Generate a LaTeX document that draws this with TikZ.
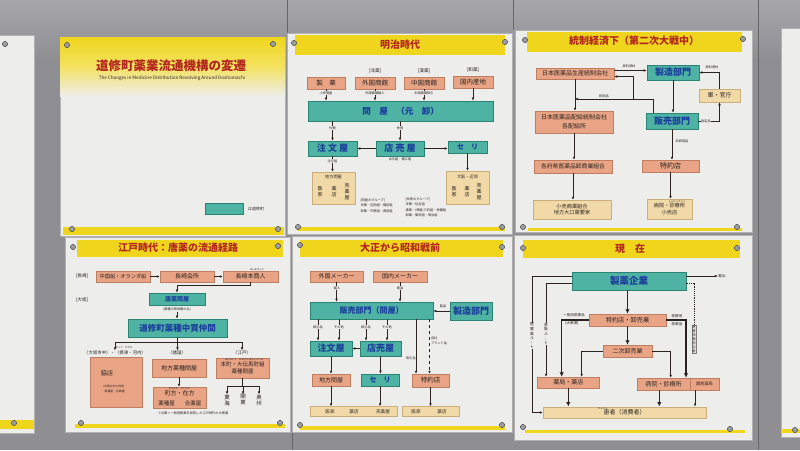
\documentclass[tikz,border=0pt]{standalone}
\usepackage{fontspec}
\setmainfont{Noto Sans CJK JP}
\usetikzlibrary{arrows.meta,positioning,calc,shadows}
\definecolor{wallGray}{HTML}{8E8E93}
\definecolor{wallTop}{HTML}{A7A6AB}
\definecolor{panelWhite}{HTML}{EDEDEB}
\definecolor{barYellow}{HTML}{EFD61C}
\definecolor{titleRed}{HTML}{B3261E}
\definecolor{pinkFill}{HTML}{E9A485}
\definecolor{pinkEdge}{HTML}{BF7D62}
\definecolor{tealFill}{HTML}{4FB3A3}
\definecolor{tealEdge}{HTML}{2A8474}
\definecolor{inkBlue}{HTML}{1B3E9C}
\definecolor{creamFill}{HTML}{F2DAA8}
\definecolor{creamEdge}{HTML}{CBAE7A}
\definecolor{inkDark}{HTML}{2A2320}
\definecolor{screwGray}{HTML}{9A9DA2}
\newcommand{\fsz}[2]{\fontsize{#1}{#2}\selectfont}

\begin{document}
\begin{tikzpicture}[x=1pt,y=-1pt,
    sz/.style 2 args={minimum width=#1pt,minimum height=#2pt},
    pinkbox/.style={rectangle,draw=pinkEdge,fill=pinkFill,line width=0.5pt,
                    inner sep=0pt,font=\fsz{6}{7},text=inkDark,
                    drop shadow={shadow xshift=0.7pt,shadow yshift=-0.7pt,opacity=0.45}},
    tealbox/.style={rectangle,draw=tealEdge,fill=tealFill,line width=0.7pt,
                    inner sep=0pt,font=\bfseries\fsz{9}{10},text=inkBlue,
                    drop shadow={shadow xshift=0.8pt,shadow yshift=-0.8pt,opacity=0.45}},
    creambox/.style={rectangle,draw=creamEdge,fill=creamFill,line width=0.5pt,
                     inner sep=0pt,font=\fsz{5.2}{6.5},text=inkDark,
                     drop shadow={shadow xshift=0.7pt,shadow yshift=-0.7pt,opacity=0.4}},
    paneltitle/.style={font=\bfseries\fsz{10}{11},text=titleRed},
    tinylbl/.style={font=\fsz{3.2}{5.5},text=inkDark,inner sep=0.4pt},
    sidelbl/.style={font=\fsz{4.6}{5.5},text=inkDark,inner sep=0.4pt},
    tate/.style={align=center,font=\fsz{5}{6},text=inkDark,inner sep=0pt},
    flow/.style={draw=inkDark,line width=0.5pt,-{Latex[length=3pt,width=2.6pt]}},
    bigflow/.style={draw=inkDark,line width=1.3pt,-{Latex[length=4.5pt,width=4.5pt]}}
  ]
  \useasboundingbox (0,0) rectangle (800,450);
  % wall
  \fill[wallGray] (0,0) rectangle (800,450);
  \shade[top color=wallTop,bottom color=wallGray] (0,0) rectangle (800,60);
  \draw[black!60,line width=1pt] (287,0) -- (287,33) (513,0) -- (513,30)
    (292,432) -- (292,450) (758,0) -- (758,450);
  % panels
  \foreach \xa/\ya/\xb/\yb in {-5/35/34/433, 781/28/805/437,
      60/37/285/236, 287/33/512/234, 515/30/752/232,
      65/237/290/432, 292/236/512/432, 514/235/752/440}
    \fill[panelWhite,draw=black!30] (\xa,\ya) rectangle (\xb,\yb);
  % title bars
  \shade[top color=barYellow,bottom color=panelWhite,middle color=barYellow!70]
    (60,37) rectangle (285,96);
  \foreach \xa/\ya/\xb/\yb in {295/35/505/55, 527/32/742/52,
      77/240/283/257, 300/240/503/257, 523/240/740/258}
    \fill[barYellow] (\xa,\ya) rectangle (\xb,\yb);
  % bottom strips
  \foreach \xa/\ya/\xb/\yb in {-5/420/34/429, 781/429/805/433, 63/227/284/235,
      298/227/505/231, 528/228/742/231, 75/424/285/428,
      300/426/505/430, 525/430/745/433}
    \fill[barYellow] (\xa,\ya) rectangle (\xb,\yb);
  % screws
  \foreach \sx/\sy in {5/44, 14/423, 67/45, 273/44, 72/229, 278/229,
      294/43, 505/42, 298/227, 502/227, 525/40, 743/39, 523/227, 737/227,
      73/247, 278/246, 81/423, 280/423, 300/245, 502/247, 300/425, 502/425,
      523/248, 737/248, 523/427, 730/429, 795/430}
    \fill[screwGray,draw=black!70,line width=0.5pt] (\sx,\sy) circle (2.6);

  % Title panel
  \node[font=\bfseries\fsz{12.5}{13},text=titleRed] (mainTitle) at (171,66) {道修町薬業流通機構の変遷};
  \node[font=\fsz{4.6}{5},text=inkDark] (subTitle) at (172,78)
    {The Changes in Medicine Distribution Revolving Around Doshomachi};
  \node[tealbox,sz={38}{11}] (legendKey) at (224,208.5) {};
  \node[sidelbl,font=\fsz{4}{5}] (legendTxt) at (256,209) {は道修町};

  % Meiji
  \node[paneltitle] (meijiTitle) at (400,45) {明治時代};
  \node[sidelbl] (yoyakuLbl) at (375,71) {[洋薬]};
  \node[sidelbl] (kanyakuLbl) at (424,71) {[漢薬]};
  \node[sidelbl] (wayakuLbl) at (473,70) {[和薬]};
  \node[pinkbox,sz={38}{12},font=\fsz{6.5}{7}] (seiyaku) at (326,83) {製　薬};
  \node[pinkbox,sz={40}{12},font=\fsz{6.5}{7}] (gaikoku) at (375,83) {外国商館};
  \node[pinkbox,sz={40}{12},font=\fsz{6.5}{7}] (chugoku) at (424,83) {中国商館};
  \node[pinkbox,sz={40}{12},font=\fsz{6.5}{7}] (kokunai) at (473,82) {国内産地};
  \node[tealbox,sz={185}{20},font=\bfseries\fsz{8.5}{9}] (tonya) at (400.5,111) {問　屋　（元　卸）};
  \foreach \src in {seiyaku,gaikoku,chugoku,kokunai}
    \draw[flow] (\src.south) -- (\src.south |- tonya.north);
  \node[tinylbl,fill=panelWhite] (seiyakuVia) at (326,93) {小売問屋};
  \node[tinylbl,fill=panelWhite] (gaikokuVia) at (375,93) {外国商館輸入};
  \node[tinylbl,fill=panelWhite] (chugokuVia) at (424,93) {中国商館取引};
  \node[tealbox,sz={49}{15}] (chumon) at (332.5,148.5) {注 文 屋};
  \node[tealbox,sz={48}{15}] (tenuri) at (400,148.5) {店 売 屋};
  \node[tealbox,sz={39}{12},font=\bfseries\fsz{7}{8}] (seri) at (467.5,147) {セ　リ};
  \draw[flow] (chumon.north |- tonya.south) -- (chumon.north);
  \draw[flow] (tenuri.north |- tonya.south) -- (tenuri.north);
  \node[tinylbl,fill=panelWhite] (nakagaiA) at (332.5,128) {仲買};
  \node[tinylbl,fill=panelWhite] (nakagaiB) at (400,128) {仲買};
  \draw[flow] (tenuri.west) -- (chumon.east);
  \draw[flow] (tenuri.east) -- (tenuri.east -| seri.west);
  \node[tinylbl] (tenuriGrp) at (400,159) {永久組・備江組};
  \node[creambox,sz={43}{32}] (chihou) at (333.5,188) {};
  \node[creambox,sz={43}{33}] (osakaKinko) at (467.5,187.5) {};
  \draw[flow] (chumon.south) -- (chumon.south |- chihou.north);
  \draw[flow] (seri.south) -- (seri.south |- osakaKinko.north);
  \node[tinylbl,fill=panelWhite] (chumonGrp) at (332.5,161) {注文組};
  \node[sidelbl,font=\fsz{4.2}{5}] (chihouHd) at (333.5,177) {地方問屋};
  \node[tate] (chihouA) at (320,192) {医\\家};
  \node[tate] (chihouB) at (334,192) {薬\\店};
  \node[tate] (chihouC) at (347,192) {売\\薬\\屋};
  \node[sidelbl,font=\fsz{4.2}{5}] (osakaHd) at (467.5,177) {大阪・近郊};
  \node[tate] (osakaA) at (454,192) {医\\家};
  \node[tate] (osakaB) at (467,192) {薬\\店};
  \node[tate] (osakaC) at (479,192) {売\\薬\\屋};
  \node[tinylbl,anchor=north west,align=left] (tonyaGrp) at (360,198)
    {[問屋のグループ]\\洋薬―吉田組―備前組\\和薬―平野組―西宮組};
  \node[tinylbl,anchor=north west,align=left] (nakagaiGrp) at (405,197)
    {[仲買のグループ]\\洋薬―住吉組\\漢薬―(堺屋)三石組―神農組\\和薬―御安組―明治組};

  % Tosei keizai
  \node[paneltitle] (toseiTitle) at (634,41) {統制経済下（第二次大戦中）};
  \node[pinkbox,sz={78}{11}] (seisan) at (575,73.5) {日本医薬品生産統制会社};
  \node[tealbox,sz={52}{15}] (seizouA) at (673,72.5) {製造部門};
  \node[pinkbox,sz={78}{22},align=center] (haikyu) at (574,122) {日本医薬品配給統制会社\\[2pt]各配給所};
  \node[pinkbox,sz={78}{13},font=\fsz{5.8}{7}] (oroshiKumiai) at (573,166.5) {各府県医薬品卸商業組合};
  \node[creambox,sz={78}{19},align=center] (kouriKumiai) at (572,209.5) {小売商業組合\\地方大口需要家};
  \node[tealbox,sz={52}{16}] (hanbaiA) at (672,121) {販売部門};
  \node[creambox,sz={41}{13},font=\fsz{6}{7}] (gunKancho) at (719.5,95.5) {軍・官庁};
  \node[pinkbox,sz={57}{12},font=\fsz{7}{8}] (tokuyakuA) at (670.5,166) {特約店};
  \node[creambox,sz={45}{20},align=center] (byoinA) at (669.5,209) {病院・診療所\\小売店};
  \coordinate (seisanOut) at ([yshift=3pt]seisan.east);
  \draw[flow] (seisanOut) -- (seisanOut -| seizouA.west);
  \node[tinylbl] (genryoA) at (629,66) {原料資材};
  \draw[flow] (seisan.south) -- (seisan.south |- haikyu.north);
  \coordinate (toseiJct) at (633,99);
  \coordinate (hanbaiUp) at ([xshift=-19pt]hanbaiA.north);
  \draw[flow] (hanbaiUp) |- (seisan.south |- toseiJct);
  \draw[flow] (toseiJct) |- ([yshift=-3pt]seisan.east);
  \node[tinylbl] (toseihin) at (604,96) {統制品};
  \draw[flow] (hanbaiA.east) -| (gunKancho.south);
  \node[tinylbl,fill=panelWhite] (shiteihin) at (706,121) {指定品};
  \draw[flow] (gunKancho.north) |- (seizouA.east);
  \node[tinylbl] (genryoB) at (712,67) {原料資材};
  \draw[flow] (seizouA.south) -- (seizouA.south |- hanbaiA.north);
  \draw[flow] (hanbaiA.south) -- (hanbaiA.south |- tokuyakuA.north);
  \node[tinylbl] (hitoseihin) at (682,141) {非統制品};
  \draw[flow] (tokuyakuA.south) -- (tokuyakuA.south |- byoinA.north);
  \node[tinylbl,font=\fsz{2.4}{3}] (shinryoRuby) at (677,201.5) {しんりょうじょ};
  \draw[flow] (haikyu.south) -- (haikyu.south |- oroshiKumiai.north);
  \draw[flow] (oroshiKumiai.south) -- (oroshiKumiai.south |- kouriKumiai.north);

  % Edo
  \node[paneltitle] (edoTitle) at (178,248) {江戸時代：唐薬の流通経路};
  \node[sidelbl] (nagasakiLbl) at (82,276) {[長崎]};
  \node[pinkbox,sz={54}{11},font=\fsz{5.2}{6}] (karafune) at (123,276.5) {中国船・オランダ船};
  \node[pinkbox,sz={54}{11}] (kaisho) at (187,276.5) {長崎会所};
  \node[pinkbox,sz={55}{11}] (honshonin) at (250.5,276.5) {長崎本商人};
  \node[tinylbl,font=\fsz{2.4}{3}] (honshoRuby) at (257,269.5) {ほんあきんど};
  \draw[flow] (karafune) -- (kaisho);
  \draw[flow] (kaisho) -- (honshonin);
  \node[sidelbl] (osakaLbl) at (82,300) {[大坂]};
  \node[tealbox,sz={56}{12},font=\bfseries\fsz{6}{7}] (toyakuTonya) at (177,299) {唐薬問屋};
  \draw[flow] (honshonin.south) -- ++(0,3) -| (toyakuTonya.north);
  \node[tinylbl] (toyakuNote) at (177,309.5) {(薬種中買仲間の名)};
  \node[tealbox,sz={99}{18},font=\bfseries\fsz{8.5}{9}] (nakagaiNakama) at (177.5,328) {道修町薬種中買仲間};
  \draw[flow] (toyakuNote.south) -- (toyakuNote.south |- nakagaiNakama.north);
  \node[sidelbl,font=\fsz{4.4}{5}] (shichuLbl) at (115,353) {〈大坂市中〉・〈摂津・河内〉};
  \node[tinylbl,font=\fsz{2.4}{3}] (settsuRuby) at (124,347.5) {せっつ　かわち};
  \node[sidelbl,font=\fsz{4.4}{5}] (shokokuLbl) at (177,353) {〈諸国〉};
  \node[sidelbl,font=\fsz{4.4}{5}] (edoLbl) at (242,353) {〈江戸〉};
  \draw[flow] (nakagaiNakama.south) -- ++(0,5) -| (shichuLbl.north);
  \draw[flow] (nakagaiNakama.south) -- (nakagaiNakama.south |- shokokuLbl.north);
  \draw[flow] (nakagaiNakama.south) -- ++(0,5) -| (edoLbl.north);
  \node[pinkbox,sz={52}{50}] (wakimise) at (116,382) {};
  \node[sidelbl,font=\fsz{6}{7}] (wakiTxt) at (107,373) {脇店};
  \node[tinylbl,font=\fsz{2.8}{4.5},align=center] (wakiNote) at (115,389) {(中買以外の仲買・\\薬種屋・合薬屋)};
  \node[pinkbox,sz={54}{18}] (chihoYakushu) at (179,368) {地方薬種問屋};
  \node[pinkbox,sz={53}{21}] (machikata) at (179.5,397.5) {};
  \draw[flow] (chihoYakushu.south) -- (chihoYakushu.south |- machikata.north);
  \node[tinylbl,font=\fsz{2.4}{3}] (machiRuby) at (179.5,389) {まちかた　ざいかた};
  \node[sidelbl,font=\fsz{6}{7}] (machiTop) at (179.5,393.5) {町方・在方};
  \node[sidelbl,font=\fsz{5.5}{6}] (machiL) at (166.5,403.5) {薬種屋};
  \node[sidelbl,font=\fsz{5.5}{6}] (machiR) at (193,403.5) {合薬屋};
  \node[pinkbox,sz={53}{20},align=center,font=\fsz{5.5}{7}] (honcho) at (242.5,368) {本町・大伝馬町組\\薬種問屋};
  \node[tinylbl,font=\fsz{2.4}{3}] (honchoRuby) at (244,359.5) {ほんちょう　おおでんまちょうぐみ};
  \node[tate,font=\fsz{5.5}{6}] (tokai) at (227,400) {東\\海};
  \node[tate,font=\fsz{5.5}{6}] (kanto) at (243,400) {関\\東};
  \node[tate,font=\fsz{5.5}{6}] (oshu) at (259,400) {奥\\州};
  \coordinate (edoSplit) at ([yshift=-8pt]honcho.south);
  \draw[inkDark,line width=0.5pt] (honcho.south) -- (edoSplit);
  \foreach \dest in {tokai,kanto,oshu}
    \draw[flow] (edoSplit) -| (\dest.north);
  \node[tinylbl] (edoFoot) at (193,413) {※合薬＝一般用医薬を総称した江戸時代の大衆薬};

  % Taisho - Showa
  \node[paneltitle] (taishoTitle) at (400,248) {大正から昭和戦前};
  \node[pinkbox,sz={53}{11}] (gaiMaker) at (336.5,276.5) {外国メーカー};
  \node[pinkbox,sz={54}{11}] (naiMaker) at (400,276.5) {国内メーカー};
  \node[tealbox,sz={123}{17},font=\bfseries\fsz{8}{9}] (hanbaiB) at (371.5,310.5) {販売部門（問屋）};
  \node[tealbox,sz={42}{18}] (seizouB) at (471,311) {製造部門};
  \draw[flow] (gaiMaker.south) -- (gaiMaker.south |- hanbaiB.north);
  \node[tinylbl,fill=panelWhite] (yunyu) at (337,288) {輸入};
  \draw[flow] (naiMaker.south) -- (naiMaker.south |- hanbaiB.north);
  \node[tinylbl,fill=panelWhite] (shohinA) at (400,288) {商品};
  \draw[flow] (seizouB.west) -- (seizouB.west -| hanbaiB.east);
  \node[tinylbl] (seihinB) at (443,306) {製品};
  \node[tealbox,sz={42}{15}] (chumonB) at (331,348.5) {注文屋};
  \node[tealbox,sz={41}{15}] (tenuriB) at (380.5,348.5) {店売屋};
  \coordinate (tzRow) at (0,327);
  \foreach \dest/\dx/\lbl [count=\i] in {chumonB/-13/取引品,chumonB/8/その他,
      tenuriB/-14.5/取引品,tenuriB/6.5/その他}{
    \coordinate (tzIn\i) at ([xshift=\dx pt]\dest.north);
    \draw[flow] (tzIn\i |- hanbaiB.south) -- (tzIn\i);
    \node[tinylbl,fill=panelWhite] (tzLbl\i) at (tzIn\i |- tzRow) {\lbl};
  }
  \draw[flow] (tenuriB.west) -- (chumonB.east);
  \node[pinkbox,sz={38}{12}] (chihouB) at (331,380) {地方問屋};
  \node[tealbox,sz={38}{12},font=\bfseries\fsz{7}{8}] (seriB) at (380,380) {セ　リ};
  \node[pinkbox,sz={37}{13},font=\fsz{6.5}{7}] (tokuyakuB) at (430.5,380.5) {特約店};
  \draw[flow] (chumonB.south) -- (chumonB.south |- chihouB.north);
  \draw[flow] (tenuriB.south) -- (tenuriB.south |- seriB.north);
  \coordinate (tkSolid) at ([xshift=-14.5pt]tokuyakuB.north);
  \coordinate (tkDash) at ([xshift=-1pt]tokuyakuB.north);
  \draw[flow] (tkSolid |- hanbaiB.south) -- (tkSolid);
  \draw[flow,dashed] (tkDash |- hanbaiB.south) -- (tkDash);
  \node[tinylbl] (torihikiC) at (411,358) {取引品};
  \node[tinylbl,align=left] (jishaBrand) at (439,341) {自社\\ブランド品};
  \node[creambox,sz={87}{10}] (iyakuBarB) at (353.5,411.5) {};
  \node[creambox,sz={57}{10}] (iyakuBarC) at (430.5,411.5) {};
  \node[sidelbl] (barBa) at (330,411.5) {医家};
  \node[sidelbl] (barBb) at (354,411.5) {薬店};
  \node[sidelbl] (barBc) at (383,411.5) {売薬屋};
  \node[sidelbl] (barCa) at (416,411.5) {医家};
  \node[sidelbl] (barCb) at (442,411.5) {薬店};
  \draw[flow] (chihouB.south) -- (chihouB.south |- iyakuBarB.north);
  \draw[flow] (seriB.south) -- (seriB.south |- iyakuBarB.north);
  \draw[flow] (tokuyakuB.south) -- (tokuyakuB.south |- iyakuBarC.north);

  % Genzai
  \node[paneltitle] (genzaiTitle) at (630,249) {現　在};
  \node[tealbox,sz={114}{18},font=\bfseries\fsz{9.5}{10}] (seiyakuKigyo) at (629,281) {製薬企業};
  \node[tinylbl,font=\fsz{3.6}{4}] (yushutsu) at (722,276) {輸出};
  \coordinate (exportOut) at ([yshift=5pt]seiyakuKigyo.east);
  \draw[flow] (exportOut) -- (yushutsu.west);
  \node[creambox,sz={163}{11.5},font=\fsz{6}{7}] (kanja) at (624.5,412.5) {患者（消費者）};
  \node[tinylbl,font=\fsz{2.4}{3}] (kanjaRuby) at (603,408.6) {かんじゃ};
  \node[pinkbox,sz={77}{12},font=\fsz{6.2}{7}] (tokuyakuC) at (627.5,320) {特約店・卸売業};
  \node[pinkbox,sz={49}{12}] (nijiOroshi) at (627.5,351) {二次卸売業};
  \node[pinkbox,sz={62}{11}] (yakkyoku) at (568.3,382.5) {薬局・薬店};
  \node[pinkbox,sz={53}{12}] (byoinC) at (663.5,384) {病院・診療所};
  \node[pinkbox,sz={29}{12},font=\fsz{4.2}{5}] (chozai) at (704.5,384) {調剤薬局};
  \coordinate (haichiOut) at ([yshift=5pt]seiyakuKigyo.west);
  \coordinate (haichiCorner) at (532,412.5);
  \draw[flow] (haichiOut) -| (haichiCorner) -- (kanja.west);
  \node[tate,font=\fsz{3.8}{4.6},fill=panelWhite] (haichiLbl) at (532,336) {配\\置\\薬\\ル\\｜\\ト};
  \coordinate (chokuOut) at ([yshift=-2pt]seiyakuKigyo.west);
  \coordinate (chokuIn) at ([xshift=-22.3pt]yakkyoku.north);
  \draw[flow] (chokuOut) -| (chokuIn);
  \node[tate,font=\fsz{3.8}{4.6},fill=panelWhite] (chokuLbl) at (546,334) {直\\販\\ル\\｜\\ト};
  \coordinate (mrOut) at ([yshift=-2pt]seiyakuKigyo.east);
  \node[tate,font=\fsz{3.4}{4},draw=inkDark!60,line width=0.3pt,inner sep=0.6pt] (mrLbl) at (694,339) {医\\薬\\情\\報\\担\\当\\者};
  \draw[inkDark,line width=0.4pt,dash pattern=on 1.2pt off 1pt] (mrOut) -| (mrLbl.north);
  \draw[bigflow] (tokuyakuC.north |- seiyakuKigyo.south) -- (tokuyakuC.north);
  \node[sidelbl,font=\fsz{3.6}{4}] (ippanLbl) at (574,315) {一般用医薬品};
  \node[sidelbl,font=\fsz{3.6}{4}] (taishuLbl) at (572,323.5) {(大衆薬)};
  \node[sidelbl,font=\fsz{3.6}{4}] (iryoLbl) at (677,316) {医療用};
  \node[sidelbl,font=\fsz{3.6}{4}] (iyakuhinLbl) at (677,324.5) {医薬品};
  \draw[bigflow] (tokuyakuC.south) -- (nijiOroshi.north);
  \coordinate (ykBig) at ([xshift=-6.6pt]yakkyoku.north);
  \coordinate (ykThin) at ([xshift=13.4pt]yakkyoku.north);
  \coordinate (bzBig) at ([xshift=22.5pt]byoinC.north);
  \coordinate (bzThin) at ([xshift=7.2pt]byoinC.north);
  \draw[bigflow] (tokuyakuC.west) -| (ykBig);
  \draw[bigflow] (tokuyakuC.east) -| (bzBig);
  \draw[flow] (nijiOroshi.west) -| (ykThin);
  \draw[flow] (nijiOroshi.east) -| (bzThin);
  \draw[bigflow] (yakkyoku.south) -- (yakkyoku.south |- kanja.north);
  \coordinate (bzOut) at ([xshift=-4.2pt]byoinC.south);
  \draw[bigflow] (bzOut) -- (bzOut |- kanja.north);
  \coordinate (czOut) at ([xshift=-9.5pt]chozai.south);
  \draw[flow] (czOut) -- (czOut |- kanja.north);
\end{tikzpicture}
\end{document}
